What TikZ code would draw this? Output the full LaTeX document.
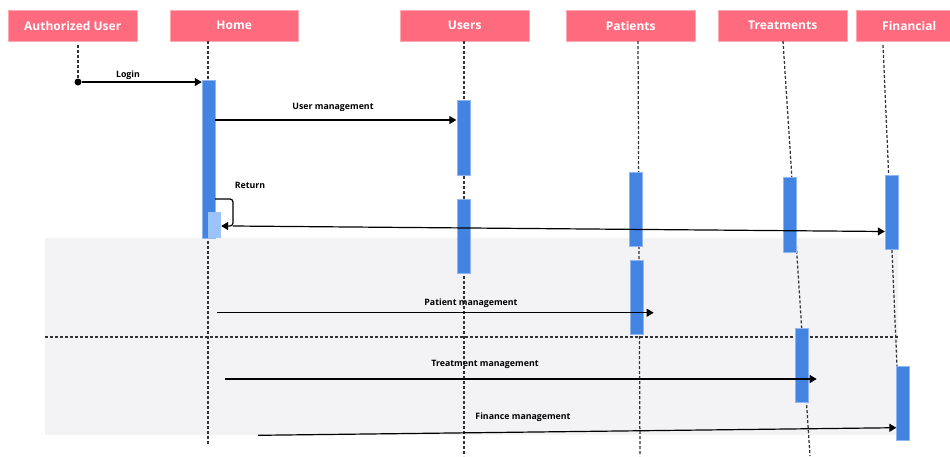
\documentclass[tikz,border=0pt]{standalone}
\usepackage{fontspec}
\setmainfont{Open Sans}
\usetikzlibrary{arrows.meta}

\definecolor{headfill}{HTML}{FF6B7E}
\definecolor{headline}{HTML}{FFA8B2}
\definecolor{actblue}{HTML}{4384E2}
\definecolor{actedge}{HTML}{8FB6F0}
\definecolor{actlight}{HTML}{9DC3FB}
\definecolor{bandgray}{HTML}{F3F3F6}
\definecolor{lifegray}{HTML}{333333}

\tikzset{
  header/.style={draw=headline, fill=headfill, text=white, anchor=north west,
    font=\bfseries\fontsize{12}{14}\selectfont, minimum height=31pt, inner sep=0pt},
  lifeline/.style={draw=lifegray, line width=1.25pt, dash pattern=on 3pt off 2pt},
  bar/.style={draw=actedge, fill=actblue, line width=0.4pt, minimum width=13pt, inner sep=0pt},
  retbar/.style={fill=actlight, minimum width=13pt, inner sep=0pt},
  msg/.style={draw=black, line width=1.2pt, -{Triangle[length=7pt,width=8pt]}},
  msglabel/.style={font=\bfseries\fontsize{8.8}{10}\selectfont, text=black, inner sep=0pt},
}

\begin{document}
\begin{tikzpicture}[x=1pt,y=-1pt]
  \useasboundingbox (0,0) rectangle (950,456);

  % shaded region holding the later calls, split by a dashed divider
  \fill[bandgray] (45,238) rectangle (898,434.5);
  \draw[lifeline, line width=1.1pt] (45,337) -- (898,337);

  % participants
  \node[header, minimum width=129pt] (au)  at (8,10)   {Authorized User};
  \node[header, minimum width=128pt] (hm)  at (170,10) {Home};
  \node[header, minimum width=129pt] (us)  at (400,10) {Users};
  \node[header, minimum width=129pt] (pt)  at (566,10) {Patients};
  \node[header, minimum width=129pt] (tr)  at (718,10) {Treatments};
  \node[header, minimum width=106pt] (fn)  at (856,10) {Financial};

  % lifeline end points
  \coordinate (auT) at (78,45);   \coordinate (auB) at (78,82);
  \coordinate (hmT) at (208,41);  \coordinate (hmB) at (208,445);
  \coordinate (usT) at (464,41);  \coordinate (usB) at (464,456);
  \coordinate (ptT) at (638,41);  \coordinate (ptB) at (640,456);
  \coordinate (trT) at (783,41);  \coordinate (trB) at (810,456);
  \coordinate (fnT) at (883,45);  \coordinate (fnB) at (897,366);

  \draw[lifeline] (auT) -- (auB);
  \draw[lifeline] (hmT) -- (hmB);
  \draw[lifeline] (usT) -- (usB);
  \draw[lifeline] (ptT) -- (ptB);
  \draw[lifeline] (trT) -- (trB);
  \draw[lifeline] (fnT) -- (fnB);

  % activation bars
  \node[bar, minimum height=158pt]  (hb)  at (208.5,159)   {};
  \node[retbar, minimum height=26pt] (hr) at (214.5,225)   {};
  \node[bar, minimum height=75pt]   (ub1) at (464,137.5)   {};
  \node[bar, minimum height=74pt]   (ub2) at (464,236)     {};
  \node[bar, minimum height=74pt]   (pb1) at (635.5,209)   {};
  \node[bar, minimum height=74pt]   (pb2) at (637,297)     {};
  \node[bar, minimum height=75pt]   (tb1) at (789.5,214.5) {};
  \node[bar, minimum height=74pt]   (tb2) at (802,365.5)   {};
  \node[bar, minimum height=74pt]   (fb1) at (891.5,212.2) {};
  \node[bar, minimum height=74pt]   (fb2) at (903,403)     {};

  % Login
  \node[circle, fill=black, inner sep=0pt, minimum size=7pt] (start) at (auB) {};
  \draw[msg] (start) -- (hb.west |- start);
  \node[msglabel] (lLogin) at (128,75) {Login};

  % User management
  \coordinate (umY) at (0,120);
  \draw[msg] (hb.east |- umY) -- ([xshift=-1pt]ub1.west |- umY);
  \node[msglabel] (lUser) at (333,107) {User management};

  % Return (self call) and the line out to Financial
  \coordinate (rtY) at (0,199);
  \coordinate (rtC) at (233,226);
  \draw[msg, rounded corners=3pt] (hb.east |- rtY) -| (rtC) -- (hr.east |- rtC);
  \node[msglabel] (lRet) at (250,185) {Return};
  \coordinate (fnY) at (0,231.5);
  \draw[msg] (rtC) -- (fb1.west |- fnY);

  % Patient management
  \coordinate (pmS) at (217,312.7);
  \draw[msg] (pmS) -- ([xshift=10pt]pb2.east |- pmS);
  \node[msglabel] (lPat) at (471,303) {Patient management};

  % Treatment management
  \coordinate (tmS) at (225,379);
  \draw[msg] (tmS) -- ([xshift=8pt]tb2.east |- tmS);
  \node[msglabel] (lTre) at (485,364.5) {Treatment management};

  % Finance management
  \coordinate (fmS) at (258,435.3);
  \coordinate (fmY) at (0,427.7);
  \draw[msg] (fmS) -- (fb2.west |- fmY);
  \node[msglabel] (lFin) at (523,417.5) {Finance management};
\end{tikzpicture}
\end{document}
